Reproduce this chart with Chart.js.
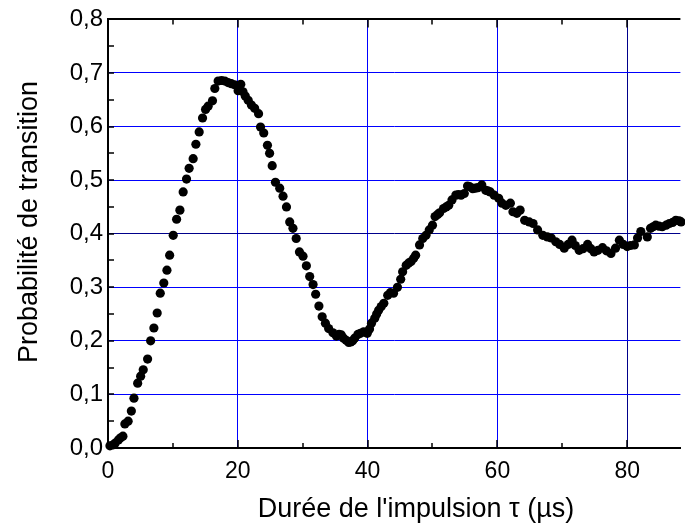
<!DOCTYPE html>
<html>
<head>
<meta charset="utf-8">
<script src="https://cdn.jsdelivr.net/npm/chart.js@4/dist/chart.umd.min.js"></script>
<style>
  html, body { margin: 0; padding: 0; background: #fff; }
  #wrap { width: 685px; height: 530px; }
</style>
</head>
<body>
<div id="wrap"><canvas id="chart" width="685" height="530"></canvas></div>
<script>
// durée de l'impulsion (µs)
const tau = [
  0.3, 0.8, 1.1, 1.6, 1.95, 2.3, 2.6, 3.1, 3.6, 4.0,
  4.57, 5.03, 5.43, 6.1, 6.57, 7.07, 7.58, 8.05, 8.6, 9.08,
  9.5, 10.05, 10.57, 11.08, 11.58, 12.1, 12.5, 13.12, 13.54, 14.05,
  14.57, 15.03, 15.43, 16.1, 16.46, 16.97, 17.5, 18.0, 18.5, 19.0,
  19.5, 20.05, 20.46, 20.8, 21.15, 21.6, 22.1, 22.6, 23.2, 23.5,
  24.0, 24.57, 24.9, 25.3, 25.8, 26.46, 26.97, 27.5, 28.0, 28.5,
  29.0, 29.5, 30.05, 30.57, 31.08, 31.6, 32.0, 32.5, 33.0, 33.5,
  34.0, 34.66, 35.2, 35.6, 35.95, 36.3, 36.7, 37.1, 37.4, 37.7,
  38.0, 38.5, 38.9, 39.4, 39.95, 40.3, 40.6, 41.1, 41.4, 41.7,
  42.1, 42.5, 43.1, 43.5, 44.0, 44.6, 45.1, 45.4, 45.95, 46.3,
  46.7, 47.1, 47.4, 48.0, 48.5, 49.0, 49.5, 50.0, 50.4, 50.8,
  51.1, 51.7, 52.1, 52.5, 53.0, 53.6, 54.0, 54.4, 54.9, 55.4,
  55.7, 56.2, 56.6, 57.0, 57.6, 58.2, 58.5, 58.9, 59.5, 60.2,
  60.7, 61.3, 62.0, 62.4, 63.0, 63.5, 64.2, 64.9, 65.5, 66.2,
  67.0, 67.7, 68.3, 69.0, 69.6, 70.3, 70.9, 71.5, 72.0, 72.6,
  73.2, 73.9, 74.4, 74.9, 75.5, 76.2, 76.8, 77.5, 78.2, 78.8,
  79.4, 80.0, 80.5, 81.1, 81.6, 82.1, 83.1, 83.6, 84.0, 84.4,
  84.9, 85.4, 86.0, 86.5, 87.0, 87.5, 88.0, 88.3, 88.7
];

// probabilité de transition
const prob = [
  0.004, 0.006, 0.009, 0.015, 0.019, 0.022, 0.045, 0.050, 0.069, 0.093,
  0.121, 0.134, 0.146, 0.166, 0.200, 0.224, 0.252, 0.289, 0.308, 0.332,
  0.360, 0.397, 0.427, 0.444, 0.478, 0.502, 0.522, 0.540, 0.567, 0.590,
  0.616, 0.632, 0.638, 0.648, 0.671, 0.685, 0.686, 0.685, 0.682, 0.680,
  0.678, 0.667, 0.679, 0.665, 0.657, 0.649, 0.640, 0.634, 0.624, 0.599,
  0.588, 0.565, 0.550, 0.527, 0.496, 0.485, 0.470, 0.450, 0.422, 0.410,
  0.391, 0.366, 0.358, 0.340, 0.320, 0.305, 0.287, 0.265, 0.245, 0.233,
  0.223, 0.215, 0.209, 0.212, 0.211, 0.205, 0.201, 0.197, 0.198, 0.200,
  0.205, 0.212, 0.214, 0.217, 0.214, 0.222, 0.233, 0.242, 0.250, 0.257,
  0.264, 0.270, 0.285, 0.290, 0.289, 0.300, 0.315, 0.329, 0.341, 0.345,
  0.348, 0.354, 0.360, 0.379, 0.391, 0.397, 0.407, 0.416, 0.432, 0.436,
  0.439, 0.447, 0.450, 0.453, 0.463, 0.472, 0.473, 0.472, 0.475, 0.489,
  0.488, 0.484, 0.485, 0.486, 0.491, 0.481, 0.480, 0.478, 0.472, 0.466,
  0.457, 0.453, 0.457, 0.441, 0.438, 0.444, 0.425, 0.422, 0.419, 0.407,
  0.397, 0.394, 0.392, 0.385, 0.380, 0.373, 0.380, 0.388, 0.378, 0.369,
  0.372, 0.380, 0.372, 0.366, 0.369, 0.374, 0.368, 0.363, 0.373, 0.388,
  0.380, 0.376, 0.378, 0.379, 0.392, 0.404, 0.394, 0.410, 0.413, 0.416,
  0.414, 0.413, 0.416, 0.419, 0.421, 0.425, 0.424, 0.422, 0.428
];

const xLabels = ["0", "20", "40", "60", "80"];
const yLabels = ["0,0", "0,1", "0,2", "0,3", "0,4", "0,5", "0,6", "0,7", "0,8"];
const xTitle = "Durée de l'impulsion τ (µs)";
const yTitle = "Probabilité de transition";

const FONT = "'Liberation Sans', Arial, sans-serif";

// graduations vers l'intérieur + titres des axes
const frameExtras = {
    id: "frameExtras",
    afterDraw(chart) {
        const { ctx, chartArea: a, scales: { x, y } } = chart;
        ctx.save();
        ctx.strokeStyle = "#000";
        ctx.lineWidth = 1.5;
        ctx.beginPath();
        for (let i = 0; i <= 16; i++) {
            const py = Math.round(y.getPixelForValue(i * 0.05));
            ctx.moveTo(a.left, py);
            ctx.lineTo(a.left + 6, py);
        }
        for (let v = 0; v <= x.max; v += 10) {
            const px = Math.round(x.getPixelForValue(v));
            const len = v % 20 === 0 ? 8 : 5;
            ctx.moveTo(px, a.bottom);
            ctx.lineTo(px, a.bottom - len);
            ctx.moveTo(px, a.top);
            ctx.lineTo(px, a.top + len);
        }
        ctx.stroke();

        ctx.fillStyle = "#000";
        ctx.font = "27px " + FONT;
        ctx.textAlign = "center";
        ctx.textBaseline = "middle";
        ctx.fillText(xTitle, 416, 510);
        ctx.translate(30, 222);
        ctx.rotate(-Math.PI / 2);
        ctx.fillText(yTitle, 0, 0);
        ctx.restore();
    }
};

const points = tau.map((t, i) => ({ x: t, y: prob[i] }));

new Chart(document.getElementById("chart").getContext("2d"), {
    type: "scatter",
    data: {
        datasets: [{
            data: points,
            pointRadius: 4.6,
            pointBackgroundColor: "#000",
            pointBorderWidth: 0,
            clip: false
        }]
    },
    options: {
        responsive: false,
        animation: false,
        events: [],
        layout: { padding: { top: 19, right: 0, bottom: 0, left: 0 } },
        plugins: { legend: { display: false }, tooltip: { enabled: false } },
        scales: {
            x: {
                type: "linear",
                min: 0,
                max: 88.2,
                afterFit(scale) { scale.height = 82; },
                ticks: {
                    stepSize: 20,
                    includeBounds: false,
                    padding: 10,
                    color: "#000",
                    font: { family: FONT, size: 23 },
                    callback: v => xLabels[Math.round(v / 20)]
                },
                grid: {
                    drawTicks: false,
                    lineWidth: 1,
                    color: c => c.tick.value === 0 ? "rgba(0,0,0,0)" : (c.tick.value === 80 ? "#00008b" : "#0000ff")
                },
                border: { display: true, color: "#000", width: 2 },
                title: { display: false }
            },
            y: {
                min: 0,
                max: 0.8,
                afterFit(scale) { scale.width = 108; },
                ticks: {
                    stepSize: 0.1,
                    padding: 5,
                    color: "#000",
                    font: { family: FONT, size: 24 },
                    callback: v => yLabels[Math.round(v * 10)]
                },
                grid: {
                    drawTicks: false,
                    lineWidth: c => Math.round(c.tick.value * 10) === 8 ? 2 : 1,
                    color: c => {
                        const k = Math.round(c.tick.value * 10);
                        if (k === 0) return "rgba(0,0,0,0)";
                        if (k === 8) return "#000";
                        if (k === 4) return "#00008b";
                        return "#0000ff";
                    }
                },
                border: { display: true, color: "#000", width: 2 },
                title: { display: false }
            }
        }
    },
    plugins: [frameExtras]
});
</script>
</body>
</html>
